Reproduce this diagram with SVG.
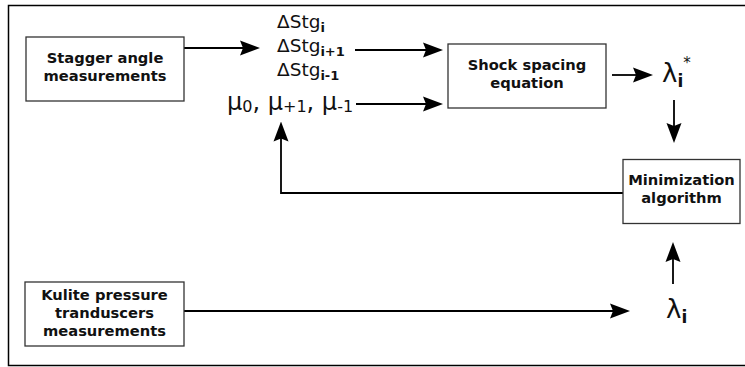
<svg xmlns="http://www.w3.org/2000/svg" width="745" height="367" viewBox="0 0 745 367">
<style>
.box{fill:#fff;stroke:#333;stroke-width:1.3}
.lbl{font-family:"DejaVu Sans",sans-serif;font-weight:bold;font-size:14.7px;fill:#111;text-anchor:middle}
.sym{font-family:"DejaVu Sans",sans-serif;fill:#111}
.con{fill:none;stroke:#000;stroke-width:1.8}
</style>
<defs>
<marker id="ah" viewBox="0 0 20 16" markerWidth="20" markerHeight="16" refX="10" refY="8" orient="auto" markerUnits="userSpaceOnUse">
<path d="M0,0.5 L20,8 L0,15.5 L3,8 z" fill="#000"/>
</marker>
</defs>
<rect x="8.5" y="5.5" width="745" height="360" fill="#fff" stroke="#000" stroke-width="1.5"/>
<g id="connectors">
<path class="con" d="M184,48 H250" marker-end="url(#ah)"/>
<path class="con" d="M355,50 H433" marker-end="url(#ah)"/>
<path class="con" d="M356,104 H433" marker-end="url(#ah)"/>
<path class="con" d="M612,75 H643" marker-end="url(#ah)"/>
<path class="con" d="M674,100 V133" marker-end="url(#ah)"/>
<path class="con" d="M623,193 H281 V131.5" marker-end="url(#ah)"/>
<path class="con" d="M184,311 H620" marker-end="url(#ah)"/>
<path class="con" d="M673,284 V252" marker-end="url(#ah)"/>
</g>
<g id="stagger">
<rect class="box" x="26" y="37" width="158" height="64"/>
<text class="lbl" x="105" y="63">Stagger angle</text>
<text class="lbl" x="105" y="81">measurements</text>
</g>
<g id="dstg">
<text class="sym" x="277" y="28" font-size="18.5">ΔStg<tspan font-weight="bold" font-size="13" dy="4">i</tspan></text>
<text class="sym" x="277" y="52" font-size="18.5">ΔStg<tspan font-weight="bold" font-size="13" dy="4">i+1</tspan></text>
<text class="sym" x="277" y="76" font-size="18.5">ΔStg<tspan font-weight="bold" font-size="13" dy="4">i-1</tspan></text>
</g>
<g id="mu">
<text class="sym" x="227" y="110" font-size="24">μ<tspan font-size="16" dy="2">0</tspan><tspan dy="-2">, μ</tspan><tspan font-size="16" dy="2">+1</tspan><tspan dy="-2">, μ</tspan><tspan font-size="16" dy="2">-1</tspan></text>
</g>
<g id="shock">
<rect class="box" x="448" y="44" width="158" height="64"/>
<text class="lbl" x="527" y="70">Shock spacing</text>
<text class="lbl" x="527" y="88">equation</text>
</g>
<g id="lambda-star">
<text class="sym" x="662" y="82" font-size="26">λ<tspan font-weight="bold" font-size="17" dy="5">i</tspan><tspan font-size="15" dy="-19">*</tspan></text>
</g>
<g id="minimization">
<rect class="box" x="623" y="159.5" width="117" height="64"/>
<text class="lbl" x="681.5" y="185">Minimization</text>
<text class="lbl" x="681.5" y="203">algorithm</text>
</g>
<g id="kulite">
<rect class="box" x="25" y="282" width="159" height="64"/>
<text class="lbl" x="104.5" y="300">Kulite pressure</text>
<text class="lbl" x="104.5" y="318">tranduscers</text>
<text class="lbl" x="104.5" y="336">measurements</text>
</g>
<g id="lambda">
<text class="sym" x="666" y="318" font-size="26">λ<tspan font-weight="bold" font-size="17" dy="5">i</tspan></text>
</g>
</svg>
